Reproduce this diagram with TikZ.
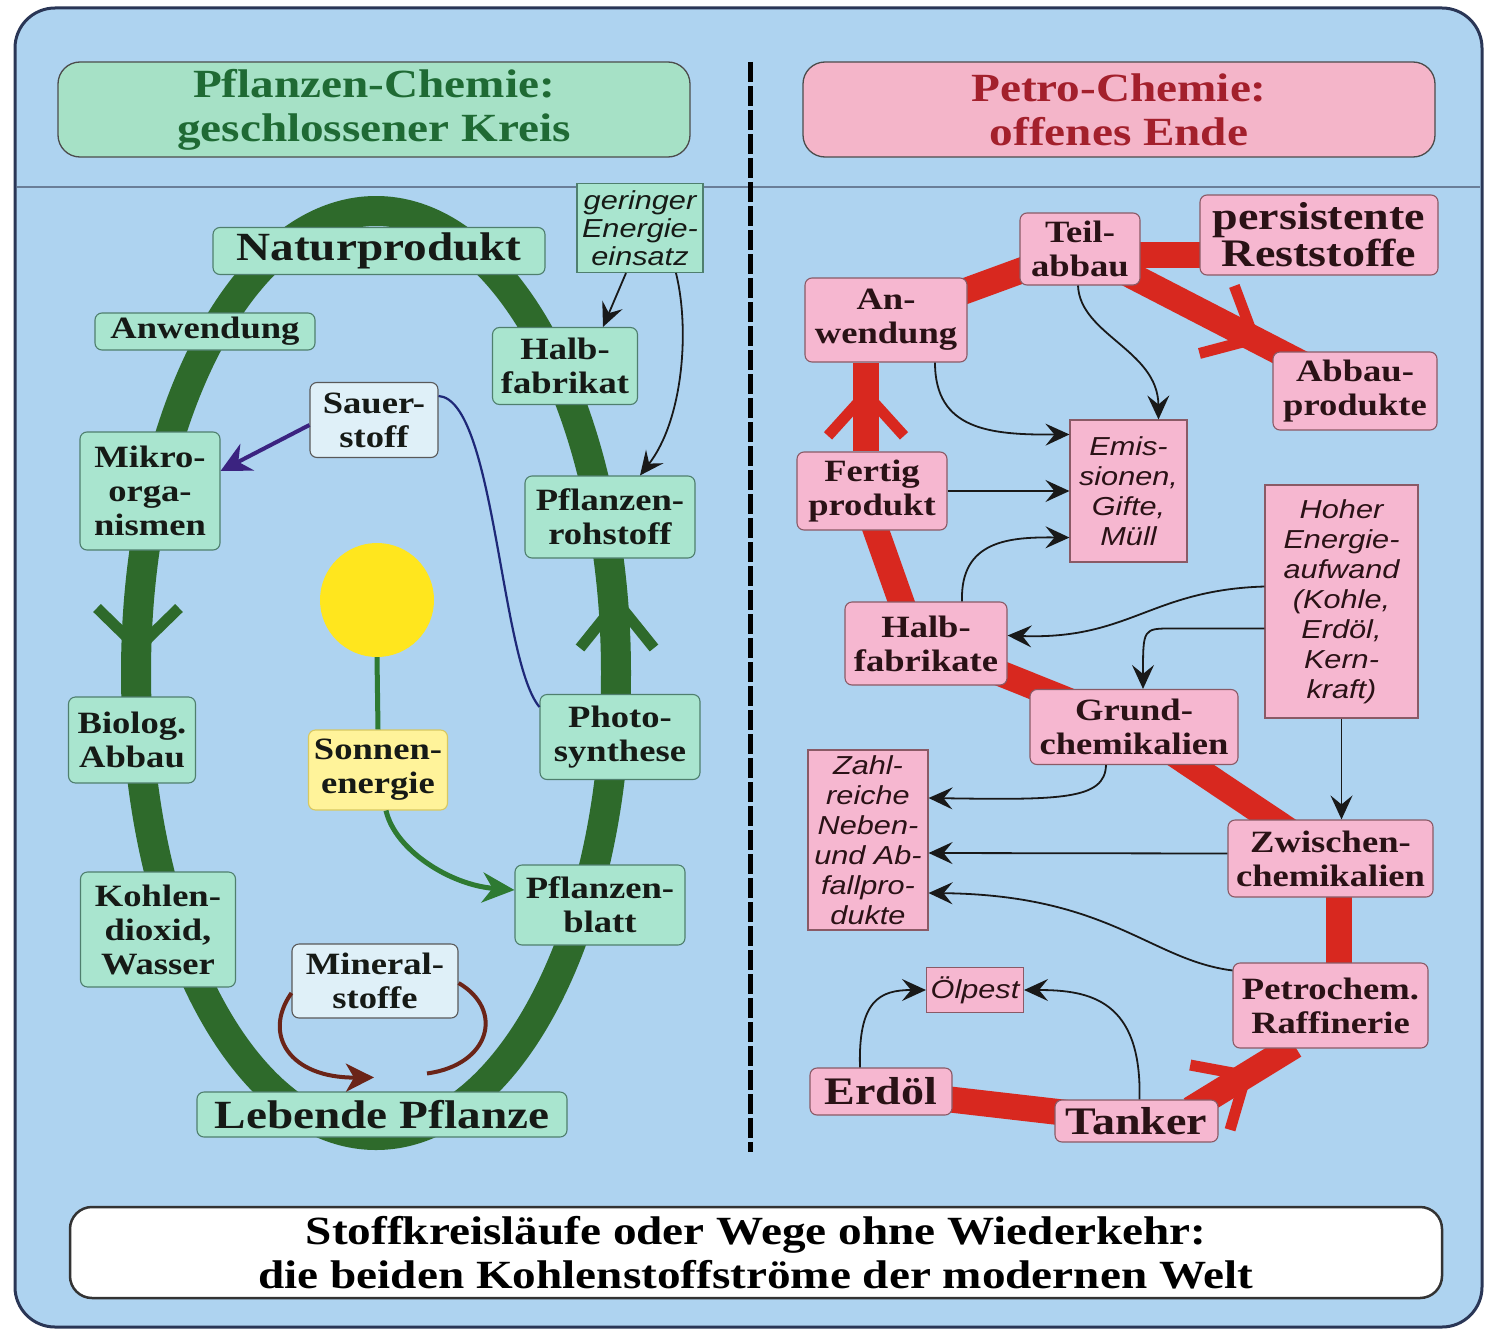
\documentclass[tikz,border=0pt]{standalone}
\usepackage{fontspec}
\newfontfamily\serifB{Liberation Serif}[FakeStretch=1.18]
\newfontfamily\sansI{Liberation Sans}[FakeStretch=1.18]
\usetikzlibrary{arrows.meta,calc,decorations.markings}
\pgfdeclarelayer{back}\pgfdeclarelayer{bg}
\pgfsetlayers{back,bg,main}
\definecolor{bgblue}{HTML}{AED3F0}
\definecolor{framec}{HTML}{2A3656}
\definecolor{sepc}{HTML}{6A7E98}
\definecolor{mint}{HTML}{A9E5CF}
\definecolor{mintdk}{HTML}{4F7F6E}
\definecolor{hdrmint}{HTML}{A6E1C6}
\definecolor{pinkn}{HTML}{F6B7D0}
\definecolor{hdrpink}{HTML}{F4B5C9}
\definecolor{pinkdk}{HTML}{8A5A66}
\definecolor{loopg}{HTML}{2E6A2B}
\definecolor{redf}{HTML}{D8281F}
\definecolor{hdrg}{HTML}{1F6A34}
\definecolor{hdrr}{HTML}{A3202C}
\definecolor{suny}{HTML}{FFE61E}
\definecolor{sonney}{HTML}{FFF39A}
\definecolor{sonneb}{HTML}{D8C860}
\definecolor{palebl}{HTML}{DFF0F8}
\definecolor{navyl}{HTML}{1E2878}
\definecolor{purp}{HTML}{3B2380}
\definecolor{brownm}{HTML}{6B2418}
\definecolor{greena}{HTML}{2E7A32}
\definecolor{txtg}{HTML}{161A16}
\definecolor{txtr}{HTML}{2A1216}
\begin{document}
\begin{tikzpicture}[x=1pt,y=-1pt,
  gbox/.style={draw=mintdk, line width=1.1pt, fill=mint, rounded corners=7pt, align=center,
    inner sep=0pt, text=txtg, font=\serifB\bfseries\fontsize{31}{34}\selectfont},
  pbox/.style={draw=pinkdk, line width=1.1pt, fill=pinkn, rounded corners=7pt, align=center,
    inner sep=0pt, text=txtr, font=\serifB\bfseries\fontsize{31}{34}\selectfont},
  gital/.style={draw=mintdk, line width=1.1pt, fill=mint, align=center, inner sep=0pt,
    text=txtg, font=\sansI\itshape\fontsize{26}{28}\selectfont},
  pital/.style={draw=pinkdk, line width=1.1pt, fill=pinkn, align=center, inner sep=0pt,
    text=txtr, font=\sansI\itshape\fontsize{26}{30}\selectfont},
  bigtxt/.style={font=\serifB\bfseries\fontsize{40}{40}\selectfont},
  hdr/.style={draw=gray!60!black, line width=1.3pt, rounded corners=22pt, align=center,
    inner sep=0pt, font=\serifB\bfseries\fontsize{40}{44}\selectfont},
  band/.style={draw=redf, color=redf, line width=26pt},
  chev/.style={postaction={decorate, decoration={markings,
    mark=at position #1 with {\arrow{Straight Barb[length=42pt,width=76pt,line width=11pt]}}}}},
  blk/.style={draw=black!90, line width=1.8pt, -{Stealth[length=24pt,width=22pt,inset=9pt]}}
]
\useasboundingbox (0,0) rectangle (1485,1330);
\begin{pgfonlayer}{back}
  \fill[white] (0,0) rectangle (1485,1330);
  \draw[fill=bgblue, draw=framec, line width=3pt, rounded corners=40pt] (15,8) rectangle (1482,1327);
  \draw[sepc, line width=1.2pt] (17,187) -- (1480,187);
  \draw[black, line width=5pt, dash pattern=on 20pt off 4pt] (750,62) -- (750,1152);
  \draw[loopg, line width=30pt] (376,673) ellipse [x radius=240, y radius=462];
  \draw[loopg, line width=11pt] (97,608) -- (138,648) -- (179,608);
  \draw[loopg, line width=11pt] (580,648) -- (617,602) -- (654,648);
\end{pgfonlayer}

% headers and footer
\node[hdr, fill=hdrmint, text=hdrg, minimum width=632, minimum height=95] (hdrL) at (374,109.5)
  {Pflanzen-Chemie:\\geschlossener Kreis};
\node[hdr, fill=hdrpink, text=hdrr, minimum width=632, minimum height=95] (hdrR) at (1119,109.5)
  {Petro-Chemie:\\offenes Ende};
\node[hdr, fill=white, text=black, draw=black!80, line width=2.5pt, minimum width=1372, minimum height=91] (foot) at (756,1252.5)
  {Stoffkreisläufe oder Wege ohne Wiederkehr:\\die beiden Kohlenstoffströme der modernen Welt};

% left side
\node[gbox, bigtxt, minimum width=332, minimum height=47] (natur) at (379,251) {Naturprodukt};
\node[gbox, minimum width=220, minimum height=37] (anwL) at (205,331.5) {Anwendung};
\node[gbox, minimum width=145, minimum height=77] (halbL) at (565,366) {Halb-\\fabrikat};
\node[gbox, fill=palebl, draw=gray!70!black, minimum width=128, minimum height=75] (sauer) at (374,420) {Sauer-\\stoff};
\node[gbox, minimum width=140, minimum height=118] (mikro) at (150,491) {Mikro-\\orga-\\nismen};
\node[gbox, minimum width=170, minimum height=82] (rohst) at (610,517) {Pflanzen-\\rohstoff};
\node[circle, fill=suny, minimum size=114, inner sep=0pt] (sun) at (377,600) {};
\node[gbox, fill=sonney, draw=sonneb, minimum width=139, minimum height=80] (sonne) at (378,770) {Sonnen-\\energie};
\node[gbox, minimum width=160, minimum height=85] (photo) at (620,737) {Photo-\\synthese};
\node[gbox, minimum width=127, minimum height=86] (biolog) at (132,740) {Biolog.\\Abbau};
\node[gbox, minimum width=170, minimum height=80] (blatt) at (600,905) {Pflanzen-\\blatt};
\node[gbox, minimum width=155, minimum height=115] (kohlen) at (158,929.5) {Kohlen-\\dioxid,\\Wasser};
\node[gbox, fill=palebl, draw=gray!70!black, minimum width=166, minimum height=74] (mineral) at (375,981) {Mineral-\\stoffe};
\node[gbox, bigtxt, minimum width=370, minimum height=45] (lebend) at (382,1114.5) {Lebende Pflanze};
\node[gital, minimum width=126, minimum height=89] (gering) at (640,228) {geringer\\Energie-\\einsatz};

% right side
\node[pbox, minimum width=120, minimum height=72] (teil) at (1080,249) {Teil-\\abbau};
\node[pbox, font=\serifB\bfseries\fontsize{39}{37}\selectfont, minimum width=238, minimum height=80] (persist) at (1319,235) {persistente\\Reststoffe};
\node[pbox, minimum width=162, minimum height=84] (anwR) at (886,320) {An-\\wendung};
\node[pbox, minimum width=164, minimum height=78] (abbau) at (1355,391) {Abbau-\\produkte};
\node[pital, minimum width=117, minimum height=142] (emis) at (1128.5,491) {Emis-\\sionen,\\Gifte,\\Müll};
\node[pbox, minimum width=150, minimum height=78] (fertig) at (872,491) {Fertig\\produkt};
\node[pital, minimum width=153, minimum height=233] (hoher) at (1341.5,601.5) {Hoher\\Energie-\\aufwand\\(Kohle,\\Erdöl,\\Kern-\\kraft)};
\node[pbox, minimum width=162, minimum height=83] (halbR) at (926,643.5) {Halb-\\fabrikate};
\node[pbox, minimum width=208, minimum height=75] (grund) at (1134,727) {Grund-\\chemikalien};
\node[pital, minimum width=120, minimum height=180] (zahl) at (868,840) {Zahl-\\reiche\\Neben-\\und Ab-\\fallpro-\\dukte};
\node[pbox, minimum width=205, minimum height=77] (zwisch) at (1330.5,858.5) {Zwischen-\\chemikalien};
\node[pital, minimum width=97, minimum height=45] (oel) at (975,990) {Ölpest};
\node[pbox, minimum width=195, minimum height=85] (raff) at (1330.5,1005.5) {Petrochem.\\Raffinerie};
\node[pbox, bigtxt, font=\serifB\bfseries\fontsize{39}{39}\selectfont, minimum width=142, minimum height=47] (erdoel) at (881,1091.5) {Erdöl};
\node[pbox, bigtxt, font=\serifB\bfseries\fontsize{39}{39}\selectfont, minimum width=163, minimum height=42] (tanker) at (1136.5,1121) {Tanker};

% red flow bands (under the boxes)
\begin{pgfonlayer}{bg}
  \draw[band] (erdoel.center) -- (tanker.center);
  \draw[band, chev=0.6] ($(tanker.north east)+(-28,10)$) -- ($(raff.south west)+(62,-3)$);
  \draw[band] ($(raff.center)+(8,0)$) -- ($(zwisch.center)+(8,0)$);
  \draw[band] (zwisch.center) -- (grund.center);
  \draw[band] (grund.center) -- (halbR.center);
  \draw[band] ($(halbR.center)+(-10,0)$) -- ($(fertig.center)+(-10,0)$);
  \draw[band, chev=0.74] ($(fertig.north)+(-6,0)$) -- ($(anwR.south)+(-20,0)$);
  \draw[band] (anwR.center) -- (teil.center);
  \draw[band] ($(teil.east)+(-5,6)$) -- ($(persist.west)+(5,20)$);
  \draw[band, chev=0.66] (teil.center) -- (abbau.center);
\end{pgfonlayer}

% left connectors
\draw[blk] ($(gering.south)+(-14,0)$) -- ($(halbL.north)+(38,0)$);
\draw[blk] ($(gering.south)+(36,0)$) .. controls (690,330) and (683,420) .. ($(rohst.north)+(30,0)$);
\draw[purp, line width=4pt, -{Stealth[length=30pt,width=30pt,inset=10pt]}]
  ($(sauer.west)+(0,5)$) -- ($(mikro.east)+(0,-20)$);
\draw[navyl, line width=2.2pt] ($(sauer.north east)+(0,14)$) .. controls (495,400) and (500,660) .. ($(photo.west)+(0,-30)$);
\draw[greena, line width=5pt] (sun.south) -- (sonne.north);
\draw[greena, line width=5pt, -{Stealth[length=32pt,width=30pt,inset=10pt]}]
  ($(sonne.south)+(8,0)$) .. controls (395,850) and (450,885) .. ($(blatt.west)+(0,-15)$);
\draw[brownm, line width=4pt, -{Stealth[length=28pt,width=28pt,inset=8pt]}]
  ($(mineral.west)+(0,12)$) .. controls (262,1035) and (290,1078) .. ($(lebend.north)+(-8,-14)$);
\draw[brownm, line width=4pt] ($(mineral.east)+(0,2)$) .. controls (505,1010) and (490,1065) .. ($(lebend.north)+(45,-18)$);

% right connectors
\draw[blk] ($(teil.south)+(-2,0)$) .. controls (1080,335) and (1158,350) .. ($(emis.north)+(30,0)$);
\draw[blk] ($(anwR.south)+(49,0)$) .. controls (935,430) and (990,435) .. ($(emis.north west)+(0,15)$);
\draw[blk] (fertig.east) -- (emis.west);
\draw[blk] ($(halbR.north)+(36,0)$) .. controls (960,540) and (1010,537) .. ($(emis.south west)+(0,-25)$);
\draw[blk] ($(hoher.west)+(0,-15)$) .. controls (1150,590) and (1130,640) .. ($(halbR.east)+(0,-8)$);
\draw[blk] ($(hoher.west)+(0,27)$) -- (1172,628.5) .. controls (1143,628.5) .. ($(grund.north)+(9,0)$);
\draw[blk] (hoher.south) -- (hoher.south |- zwisch.north);
\draw[blk] ($(grund.south)+(-28,0)$) .. controls (1105,800) and (1060,800) .. ($(zahl.east)+(0,-42)$);
\draw[blk] ($(zwisch.west)+(0,-5)$) -- ($(zahl.east)+(0,13)$);
\draw[blk] ($(raff.north west)+(0,8)$) .. controls (1150,960) and (1110,895) .. ($(zahl.east)+(0,53)$);
\draw[blk] ($(erdoel.north)+(-21,0)$) .. controls (858,1000) and (880,990) .. (oel.west);
\draw[blk] ($(tanker.north)+(3,0)$) .. controls (1142,1000) and (1090,990) .. (oel.east);
\end{tikzpicture}
\end{document}
